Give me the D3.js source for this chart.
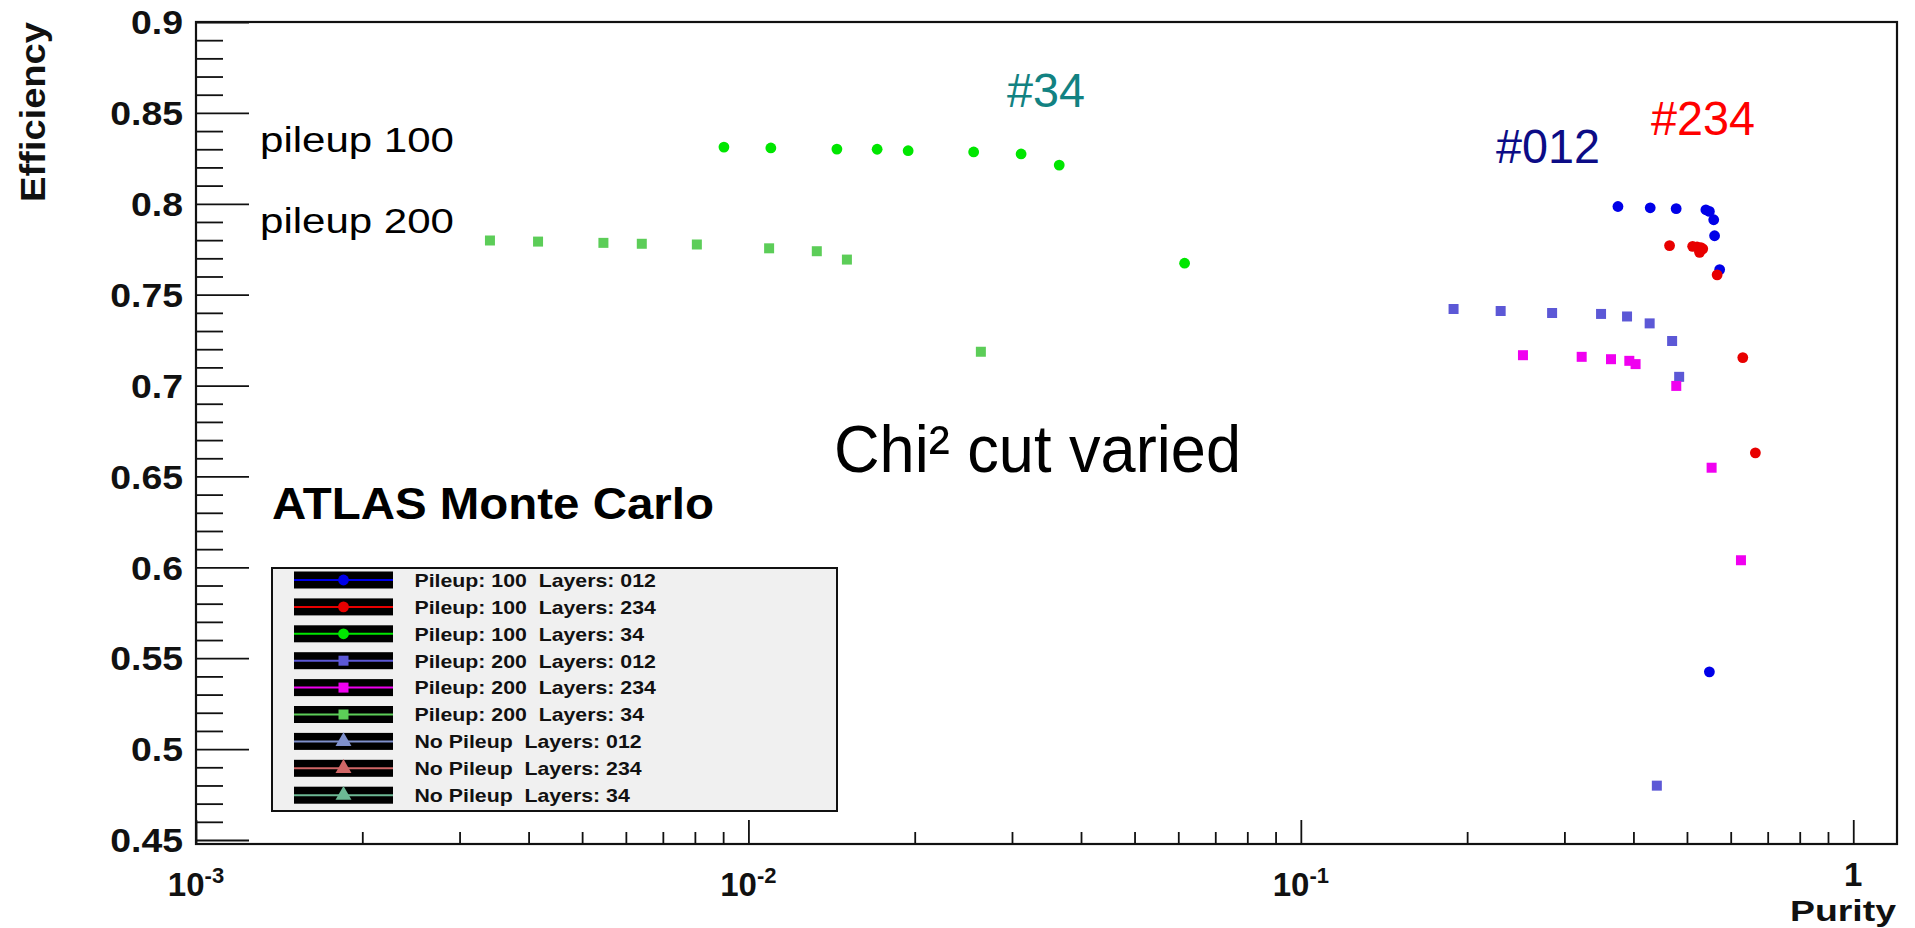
<!DOCTYPE html>
<html><head><meta charset="utf-8">
<script src="https://cdn.jsdelivr.net/npm/d3@7"></script>
<style>
body{margin:0;background:#fff;}
svg{display:block;}
text{font-family:"Liberation Sans",Arial,Helvetica,sans-serif;}
.pre{white-space:pre;}
</style>
</head><body>
<svg id="c" width="1915" height="928"></svg>
<script>
// ---------- data (purity, efficiency) ----------
const p100_012_purity = [0.375, 0.429, 0.478, 0.541, 0.549, 0.559, 0.561, 0.573, 0.549];
const p100_012_eff    = [0.7985, 0.7978, 0.7973, 0.7967, 0.7958, 0.7912, 0.7824, 0.7638, 0.5425];
const p100_234_purity = [0.465, 0.512, 0.5215, 0.530, 0.534, 0.527, 0.567, 0.631, 0.665];
const p100_234_eff    = [0.7770, 0.7766, 0.7763, 0.7759, 0.7752, 0.7733, 0.7609, 0.7154, 0.6630];
const p100_34_purity  = [0.00903, 0.01098, 0.01446, 0.0171, 0.01946, 0.02557, 0.03116, 0.03653, 0.0616];
const p100_34_eff     = [0.8312, 0.8307, 0.8301, 0.8300, 0.8292, 0.8285, 0.8274, 0.8213, 0.7673];
const p200_012_purity = [0.189, 0.230, 0.285, 0.3495, 0.3895, 0.428, 0.470, 0.484, 0.441];
const p200_012_eff    = [0.7421, 0.7410, 0.7399, 0.7394, 0.7380, 0.7342, 0.7245, 0.7048, 0.4799];
const p200_234_purity = [0.2524, 0.3224, 0.3643, 0.3932, 0.4036, 0.4782, 0.5541, 0.6262];
const p200_234_eff    = [0.7167, 0.7158, 0.7145, 0.7136, 0.7118, 0.6998, 0.6548, 0.6039];
const p200_34_purity  = [0.003405, 0.004161, 0.005464, 0.006412, 0.008066, 0.010901, 0.013298, 0.015076, 0.02635];
const p200_34_eff     = [0.7798, 0.7792, 0.7785, 0.7780, 0.7776, 0.7755, 0.7739, 0.7693, 0.7186];
const p0_012_purity = [], p0_012_eff = [];
const p0_234_purity = [], p0_234_eff = [];
const p0_34_purity  = [], p0_34_eff  = [];

const legendLabels = ["Pileup: 100  Layers: 012","Pileup: 100  Layers: 234","Pileup: 100  Layers: 34",
  "Pileup: 200  Layers: 012","Pileup: 200  Layers: 234","Pileup: 200  Layers: 34",
  "No Pileup  Layers: 012","No Pileup  Layers: 234","No Pileup  Layers: 34"];
const seriesColors = ["#0000e8","#e80000","#00e600","#5c58d6","#f000f0","#5ccd58","#7f90cc","#d06666","#6cb894"];
const seriesShapes = ["circle","circle","circle","square","square","square","triangle","triangle","triangle"];
const seriesPurity = [p100_012_purity,p100_234_purity,p100_34_purity,p200_012_purity,p200_234_purity,p200_34_purity,p0_012_purity,p0_234_purity,p0_34_purity];
const seriesEff    = [p100_012_eff,p100_234_eff,p100_34_eff,p200_012_eff,p200_234_eff,p200_34_eff,p0_012_eff,p0_234_eff,p0_34_eff];

const yTickValues = [0.45,0.5,0.55,0.6,0.65,0.7,0.75,0.8,0.85,0.9];
const yTickLabels = ["0.45","0.5","0.55","0.6","0.65","0.7","0.75","0.8","0.85","0.9"];
const xTickValues = [0.001,0.01,0.1,1];
const xTickBase   = ["10","10","10","1"];
const xTickExp    = ["-3","-2","-1",""];

// ---------- chart ----------
const svg = d3.select("#c");
const L=196, R=1897, T=22, B=844;
const x = d3.scaleLog().domain([0.001,1.2]).range([L,R]);
const y = d3.scaleLinear().domain([0.4478,0.9]).range([B,T]);

function fitW(sel,w){ sel.attr("textLength",w).attr("lengthAdjust","spacingAndGlyphs"); return sel; }
function stretch(sel,k){ sel.each(function(){ const n=this.getComputedTextLength(); d3.select(this).attr("textLength",n*k).attr("lengthAdjust","spacingAndGlyphs");}); return sel; }

// y axis ticks (inward)
const yMinor = d3.range(0.46,0.9,0.01).filter(v=>Math.abs(v*20-Math.round(v*20))>1e-6);
const gyMaj = svg.append("g").attr("transform",`translate(${L},0)`)
  .call(d3.axisRight(y).tickValues(yTickValues).tickSize(53).tickFormat(""));
const gyMin = svg.append("g").attr("transform",`translate(${L},0)`)
  .call(d3.axisRight(y).tickValues(yMinor).tickSize(27).tickFormat(""));
// x axis ticks (inward)
const xMinor = [];
[0.001,0.01,0.1,1].forEach(d=>{ for(let m=2;m<=9;m++){ const v=d*m; if(v<=1.2) xMinor.push(v);} });
const gxMaj = svg.append("g").attr("transform",`translate(0,${B})`)
  .call(d3.axisTop(x).tickValues(xTickValues).tickSize(24).tickFormat(""));
const gxMin = svg.append("g").attr("transform",`translate(0,${B})`)
  .call(d3.axisTop(x).tickValues(xMinor).tickSize(12).tickFormat(""));
[gyMaj,gyMin,gxMaj,gxMin].forEach(g=>{ g.select(".domain").remove(); g.selectAll("line").attr("stroke","#111").attr("stroke-width",1.8); });

// frame
svg.append("rect").attr("x",L).attr("y",T).attr("width",R-L).attr("height",B-T)
  .attr("fill","none").attr("stroke","#111").attr("stroke-width",2.2);

// y tick labels
const ylab = svg.append("g").selectAll("text").data(yTickValues).join("text")
  .attr("x",183).attr("y",d=>y(d)).attr("dy","0.36em").attr("text-anchor","end")
  .attr("font-size",34).attr("font-weight","bold").attr("fill","#111")
  .text((d,i)=>yTickLabels[i]);
stretch(ylab,1.1);

// x tick labels
const xl = svg.append("g").selectAll("text").data(xTickValues).join("text")
  .attr("x",d=>x(d)).attr("y",d=>d===1?886:896).attr("text-anchor","middle")
  .attr("font-weight","bold").attr("fill","#111").attr("font-size",33);
xl.each(function(d,i){
  const t=d3.select(this);
  t.append("tspan").text(xTickBase[i]);
  if(xTickExp[i]) t.append("tspan").attr("dy",-13).attr("font-size",22).text(xTickExp[i]);
});

// axis titles
fitW(svg.append("text").attr("transform",`translate(45,${T}) rotate(-90)`).attr("text-anchor","end")
  .attr("font-size",35).attr("font-weight","bold").attr("fill","#111").text("Efficiency"),180);
fitW(svg.append("text").attr("x",1896).attr("y",921).attr("text-anchor","end")
  .attr("font-size",30).attr("font-weight","bold").attr("fill","#111").text("Purity"),106);

// points
const sym = {circle:d3.symbolCircle, square:d3.symbolSquare, triangle:d3.symbolTriangle};
const symSize = {circle:Math.PI*5.4*5.4, square:100, triangle:110};
seriesPurity.forEach((px,si)=>{
  const pts = px.map((p,i)=>({p:p,e:seriesEff[si][i]}));
  svg.append("g").selectAll("path").data(pts).join("path")
    .attr("transform",d=>`translate(${x(d.p)},${y(d.e)})`)
    .attr("d",d3.symbol().type(sym[seriesShapes[si]]).size(symSize[seriesShapes[si]]))
    .attr("fill",seriesColors[si]);
});

// annotations
fitW(svg.append("text").attr("x",260).attr("y",152).attr("font-size",35).attr("fill","#000").text("pileup 100"),194);
fitW(svg.append("text").attr("x",260).attr("y",233).attr("font-size",35).attr("fill","#000").text("pileup 200"),194);
fitW(svg.append("text").attr("x",1007).attr("y",107).attr("font-size",48).attr("fill","#128282").text("#34"),78);
fitW(svg.append("text").attr("x",1496).attr("y",163).attr("font-size",48).attr("fill","#0c0c86").text("#012"),104);
fitW(svg.append("text").attr("x",1651).attr("y",135).attr("font-size",48).attr("fill","#ff0000").text("#234"),104);
fitW(svg.append("text").attr("x",834).attr("y",472).attr("font-size",66).attr("fill","#000").text("Chi² cut varied"),407);
fitW(svg.append("text").attr("x",272).attr("y",519).attr("font-size",45).attr("font-weight","bold").attr("fill","#000").text("ATLAS Monte Carlo"),442);

// legend
const lg = svg.append("g");
lg.append("rect").attr("x",272).attr("y",568).attr("width",565).attr("height",243)
  .attr("fill","#f0f0f0").attr("stroke","#111").attr("stroke-width",2);
const rowY = i => 580 + i*26.9;
legendLabels.forEach((lab,i)=>{
  const cy=rowY(i);
  lg.append("rect").attr("x",294).attr("y",cy-8.5).attr("width",99).attr("height",17).attr("fill","#000");
  lg.append("line").attr("x1",294).attr("x2",393).attr("y1",cy).attr("y2",cy).attr("stroke",seriesColors[i]).attr("stroke-width",2);
  lg.append("path").attr("transform",`translate(343.5,${cy})`)
    .attr("d",d3.symbol().type(sym[seriesShapes[i]]).size(symSize[seriesShapes[i]]))
    .attr("fill",seriesColors[i]);
  const t = lg.append("text").attr("class","pre").attr("x",414.5).attr("y",cy).attr("dy","0.36em")
    .attr("font-size",19).attr("font-weight","bold").attr("fill","#111").text(lab);
  stretch(t,1.12);
});
</script>
</body></html>
